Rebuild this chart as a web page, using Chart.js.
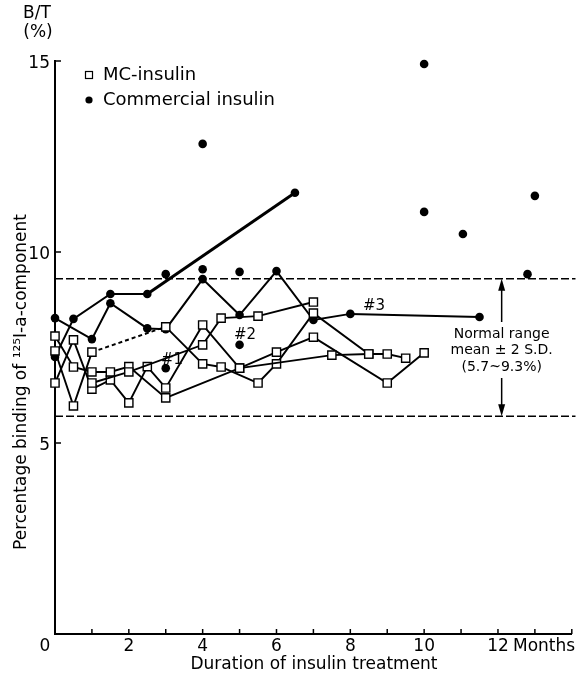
<!DOCTYPE html>
<html lang="en">
<head>
<meta charset="UTF-8">
<title>B/T binding of 125I-a-component</title>
<script src="https://cdn.jsdelivr.net/npm/chart.js"></script>
<style>
    html, body { margin: 0; padding: 0; background: #fff; }
    .chart-container { width: 579px; height: 682px; }
</style>
</head>
<body>
<div class="chart-container"><canvas id="btChart"></canvas></div>
<script>
// months of treatment (x) and B/T % (y)
const mc1X = [0, 0.5, 1, 3, 4, 4.5, 5.5, 6, 7, 8.5, 9, 9.5];
const mc1Y = [7.41, 5.97, 7.38, 8.04, 7.07, 6.99, 6.57, 7.07, 8.4, 7.33, 7.33, 7.22];
const mc2X = [0, 0.5, 1, 1.5, 2, 2.5, 3, 4, 5, 6, 7, 9, 10];
const mc2Y = [6.57, 7.7, 6.41, 6.65, 6.05, 7.0, 6.44, 8.09, 6.96, 7.38, 7.77, 6.57, 7.36];
const mc3X = [0, 0.5, 1, 1.5, 2, 3, 5, 7.5, 8.5];
const mc3Y = [7.8, 6.99, 6.86, 6.86, 7.0, 6.18, 6.96, 7.3, 7.33];
const mc4X = [1, 2, 4, 4.5, 5.5, 7];
const mc4Y = [6.57, 6.86, 7.57, 8.27, 8.32, 8.69];

const com1X = [0, 1, 1.5, 2.5, 3, 4, 5, 6, 7, 8, 11.5];
const com1Y = [8.27, 7.72, 8.66, 8.0, 7.98, 9.29, 8.35, 9.5, 8.22, 8.38, 8.3];
const com2X = [0, 0.5, 1.5, 2.5, 6.5];
const com2Y = [7.25, 8.25, 8.9, 8.9, 11.55];
const comSingleX = [3, 4, 5, 4, 10, 10, 11.05, 13, 12.8, 3, 5];
const comSingleY = [9.42, 9.55, 9.48, 12.83, 14.92, 11.05, 10.47, 11.47, 9.42, 6.96, 7.57];

const normalRange = [5.7, 9.3];

const xTickValues = [0, 2, 4, 6, 8, 10, 12];
const xTickLabels = ['0', '2', '4', '6', '8', '10', '12'];
const xTickMarks = [1, 2, 3, 4, 5, 6, 7, 8, 9, 10, 11, 12, 13, 14];
const yTickValues = [5, 10, 15];
const yTickLabels = ['5', '10', '15'];

function pts(xs, ys) {
    return xs.map((v, i) => ({ x: v, y: ys[i] }));
}

const FONT = '"DejaVu Sans", sans-serif';

const mcStyle = {
    borderColor: '#000', borderWidth: 1.9, showLine: true, tension: 0,
    pointStyle: 'rect', pointRadius: 5.8, pointBackgroundColor: '#fff',
    pointBorderColor: '#000', pointBorderWidth: 1.4, clip: false
};
const comStyle = {
    borderColor: '#000', borderWidth: 2, showLine: true, tension: 0,
    pointStyle: 'circle', pointRadius: 4.3, pointBackgroundColor: '#000',
    pointBorderColor: '#000', pointBorderWidth: 0, clip: false
};
const rangeStyle = {
    borderColor: '#000', borderWidth: 1.5, borderDash: [8, 3], showLine: true,
    pointRadius: 0, clip: false
};

const decor = {
    id: 'decor',
    afterDatasetsDraw(chart) {
        const { ctx } = chart;
        const x = chart.scales.x, y = chart.scales.y;
        ctx.save();
        ctx.fillStyle = '#000';
        ctx.strokeStyle = '#000';

        // inward tick marks
        ctx.lineWidth = 1.5;
        xTickMarks.forEach(v => {
            const px = x.getPixelForValue(v);
            ctx.beginPath(); ctx.moveTo(px, y.bottom); ctx.lineTo(px, y.bottom - 5); ctx.stroke();
        });
        yTickValues.forEach(v => {
            const py = y.getPixelForValue(v);
            ctx.beginPath(); ctx.moveTo(x.left, py); ctx.lineTo(x.left + 6, py); ctx.stroke();
        });

        // tick labels
        ctx.font = '17px ' + FONT;
        ctx.textBaseline = 'middle';
        ctx.textAlign = 'center';
        xTickValues.forEach((v, i) => {
            let px = x.getPixelForValue(v);
            if (v === 0) px -= 10;
            ctx.fillText(xTickLabels[i], px, y.bottom + 13);
        });
        ctx.textAlign = 'left';
        ctx.fillText('Months', x.getPixelForValue(12) + 15, y.bottom + 13);
        ctx.textAlign = 'right';
        yTickValues.forEach((v, i) => {
            ctx.fillText(yTickLabels[i], x.left - 5, y.getPixelForValue(v) + 3);
        });

        // axis titles
        ctx.textAlign = 'center';
        ctx.fillText('Duration of insulin treatment', 314, y.bottom + 31);
        ctx.fillText('B/T', 37, 14);
        ctx.fillText('(%)', 38, 33);
        ctx.save();
        ctx.translate(22, 382);
        ctx.rotate(-Math.PI / 2);
        ctx.fillText('Percentage binding of \u00b9\u00b2\u2075I-a-component', 0, 0);
        ctx.restore();

        // legend
        ctx.textAlign = 'left';
        ctx.font = '18px ' + FONT;
        ctx.lineWidth = 1.2;
        ctx.strokeRect(85.5, 71.5, 7, 7);
        ctx.fillText('MC-insulin', 103, 75);
        ctx.beginPath(); ctx.arc(89, 100, 3.6, 0, Math.PI * 2); ctx.fill();
        ctx.fillText('Commercial insulin', 103, 100);

        // case labels
        ctx.font = '15px ' + FONT;
        ctx.textAlign = 'center';
        ctx.fillText('#1', 172, 360);
        ctx.fillText('#2', 245, 335);
        ctx.fillText('#3', 374, 306);

        // normal range annotation
        const ax = x.getPixelForValue(12.1);
        const top = y.getPixelForValue(normalRange[1]);
        const bot = y.getPixelForValue(normalRange[0]);
        ctx.lineWidth = 1.5;
        ctx.beginPath(); ctx.moveTo(ax, top + 4); ctx.lineTo(ax, 322); ctx.stroke();
        ctx.beginPath(); ctx.moveTo(ax, 378); ctx.lineTo(ax, bot - 4); ctx.stroke();
        ctx.beginPath(); ctx.moveTo(ax, top); ctx.lineTo(ax - 3.5, top + 12); ctx.lineTo(ax + 3.5, top + 12); ctx.closePath(); ctx.fill();
        ctx.beginPath(); ctx.moveTo(ax, bot); ctx.lineTo(ax - 3.5, bot - 12); ctx.lineTo(ax + 3.5, bot - 12); ctx.closePath(); ctx.fill();
        ctx.font = '14px ' + FONT;
        ctx.fillText('Normal range', ax, 334);
        ctx.fillText('mean \u00b1 2 S.D.', ax, 350);
        ctx.fillText('(5.7~9.3%)', ax, 367);

        ctx.restore();
    }
};

new Chart(document.getElementById('btChart'), {
    type: 'scatter',
    data: {
        datasets: [
            { ...rangeStyle, data: pts([0, 14.1], [normalRange[1], normalRange[1]]) },
            { ...rangeStyle, data: pts([0, 14.1], [normalRange[0], normalRange[0]]) },
            { ...mcStyle, data: pts(mc4X, mc4Y) },
            { ...mcStyle, data: pts(mc3X, mc3Y) },
            { ...mcStyle, data: pts(mc2X, mc2Y) },
            { ...mcStyle, data: pts(mc1X, mc1Y),
              segment: { borderDash: c => c.p0DataIndex === 2 ? [4, 3] : undefined } },
            { ...comStyle, data: pts(com1X, com1Y) },
            { ...comStyle, data: pts(com2X, com2Y),
              segment: { borderWidth: c => c.p0DataIndex === 3 ? 3 : undefined } },
            { ...comStyle, showLine: false, data: pts(comSingleX, comSingleY) }
        ]
    },
    options: {
        responsive: true,
        maintainAspectRatio: false,
        animation: false,
        events: [],
        layout: { padding: { left: 55, right: 5, top: 61, bottom: 48 } },
        plugins: { legend: { display: false }, tooltip: { enabled: false } },
        scales: {
            x: {
                type: 'linear', min: 0, max: 14,
                grid: { display: false },
                ticks: { display: false },
                border: { display: true, color: '#000', width: 2 },
                afterFit(s) { s.height = 0; }
            },
            y: {
                type: 'linear', min: 0, max: 15,
                grid: { display: false },
                ticks: { display: false },
                border: { display: true, color: '#000', width: 2 },
                afterFit(s) { s.width = 0; }
            }
        }
    },
    plugins: [decor]
});
</script>
</body>
</html>
